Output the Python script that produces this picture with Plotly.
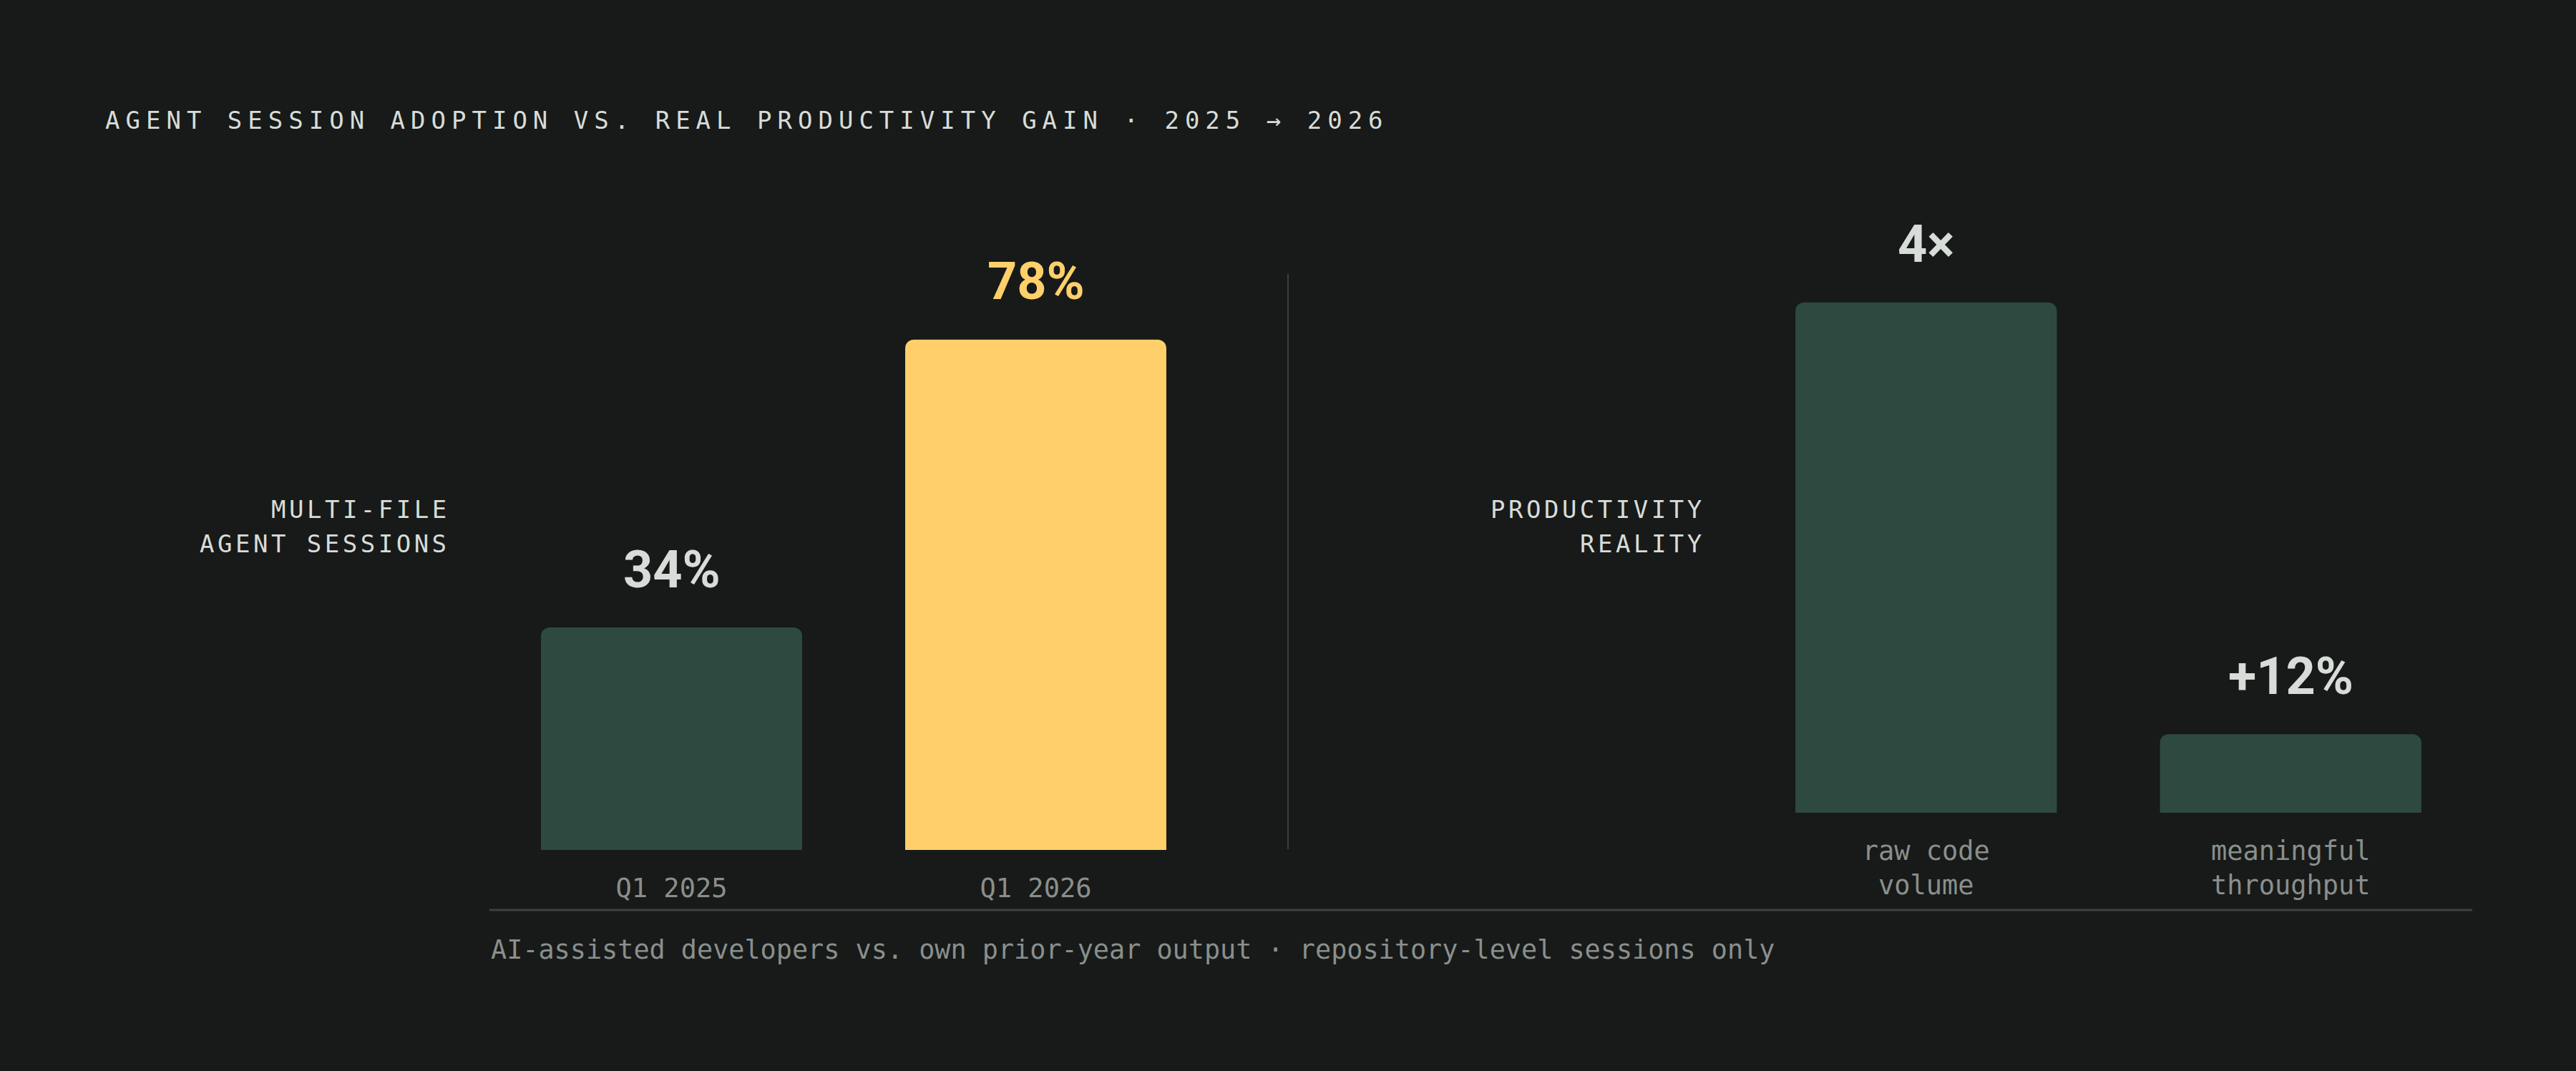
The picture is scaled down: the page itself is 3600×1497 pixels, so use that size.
import plotly.graph_objects as go

# ---- data ----
left_categories = ["Q1 2025", "Q1 2026"]
left_values = [34, 78]
left_labels = ["34%", "78%"]

right_categories = ["raw code<br>volume", "meaningful<br>throughput"]
right_bar_heights = [78, 12]          # drawn height on the shared 0-100 scale
right_labels = ["4×", "+12%"]

title_text = "AGENT SESSION ADOPTION VS. REAL PRODUCTIVITY GAIN · 2025 → 2026"
left_side_lines = ["MULTI-FILE", "AGENT SESSIONS"]
right_side_lines = ["PRODUCTIVITY", "REALITY"]
footnote_text = "AI-assisted developers vs. own prior-year output · repository-level sessions only"

# ---- style ----
W, H = 3600, 1497
BG = "#171a19"
GREEN = "#2e4a40"
YELLOW = "#ffd06a"
LIGHT = "#d7dcd8"
GRAY = "#8a8f8c"
RULE = "#3c403e"
MONO = "DejaVu Sans Mono"
SANS = "Roboto"


def px_x(x):
    return x / W


def px_y(y):
    return 1 - y / H


fig = go.Figure()

fig.add_trace(go.Bar(
    x=left_categories, y=left_values,
    marker=dict(color=[GREEN, YELLOW], cornerradius=12, line=dict(width=0)),
    width=0.717, xaxis="x", yaxis="y", hoverinfo="skip",
))
fig.add_trace(go.Bar(
    x=right_categories, y=right_bar_heights,
    marker=dict(color=[GREEN, GREEN], cornerradius=12, line=dict(width=0)),
    width=0.717, xaxis="x2", yaxis="y2", hoverinfo="skip",
))

annotations = []
# value labels
for cat, val, lab, col in zip(left_categories, left_values, left_labels, [LIGHT, YELLOW]):
    annotations.append(dict(
        x=cat, y=val, xref="x", yref="y", text=lab, showarrow=False,
        yanchor="middle", yshift=81,
        font=dict(family=SANS, size=72, color=col, weight=700),
    ))
for cat, val, lab in zip(right_categories, right_bar_heights, right_labels):
    annotations.append(dict(
        x=cat, y=val, xref="x2", yref="y2", text=lab, showarrow=False,
        yanchor="middle", yshift=81,
        font=dict(family=SANS, size=72, color=LIGHT, weight=700),
    ))

# title
annotations.append(dict(
    x=px_x(145), y=px_y(168), xref="paper", yref="paper",
    text='<span style="letter-spacing:8px">' + title_text + '</span>',
    showarrow=False, xanchor="left", yanchor="middle",
    font=dict(family=MONO, size=34, color=LIGHT),
))

# side labels
for lines, xr in [(left_side_lines, 627), (right_side_lines, 2381)]:
    for line, yy in zip(lines, [712, 760]):
        annotations.append(dict(
            x=px_x(xr), y=px_y(yy), xref="paper", yref="paper",
            text='<span style="letter-spacing:4.5px">' + line + '</span>',
            showarrow=False, xanchor="right", yanchor="middle", xshift=4,
            font=dict(family=MONO, size=34, color=LIGHT),
        ))

# footnote
annotations.append(dict(
    x=px_x(684), y=px_y(1327), xref="paper", yref="paper",
    text=footnote_text, showarrow=False, xanchor="left", yanchor="middle",
    font=dict(family=MONO, size=36.8, color=GRAY),
))

shapes = [
    dict(type="line", xref="paper", yref="paper",
         x0=px_x(1800), x1=px_x(1800), y0=px_y(383), y1=px_y(1187),
         line=dict(color=RULE, width=2)),
    dict(type="line", xref="paper", yref="paper",
         x0=px_x(684), x1=px_x(3455), y0=px_y(1272), y1=px_y(1272),
         line=dict(color=RULE, width=3)),
]

axis_common = dict(showgrid=False, zeroline=False, showline=False, ticks="",
                   fixedrange=True)

fig.update_layout(
    width=W, height=H,
    margin=dict(l=0, r=0, t=0, b=0),
    paper_bgcolor=BG, plot_bgcolor=BG,
    showlegend=False,
    barmode="group",
    xaxis=dict(domain=[px_x(684), px_x(1702)], range=[-0.5, 1.5], type="category",
               anchor="y", tickfont=dict(family=MONO, size=37, color=GRAY),
               ticklabelstandoff=28, **axis_common),
    yaxis=dict(domain=[px_y(1188), px_y(273.6)], range=[0, 100], anchor="x",
               showticklabels=False, **axis_common),
    xaxis2=dict(domain=[px_x(2437), px_x(3456)], range=[-0.5, 1.5], type="category",
                anchor="y2", tickfont=dict(family=MONO, size=37, color=GRAY),
                ticklabelstandoff=28, **axis_common),
    yaxis2=dict(domain=[px_y(1136), px_y(221.6)], range=[0, 100], anchor="x2",
                showticklabels=False, **axis_common),
    annotations=annotations,
    shapes=shapes,
)

fig.write_html(
    "out.html",
    config={"displayModeBar": False, "staticPlot": True},
    post_script="document.body.style.margin='0';document.body.style.overflow='hidden';"
                "document.body.style.background='" + BG + "';",
)
